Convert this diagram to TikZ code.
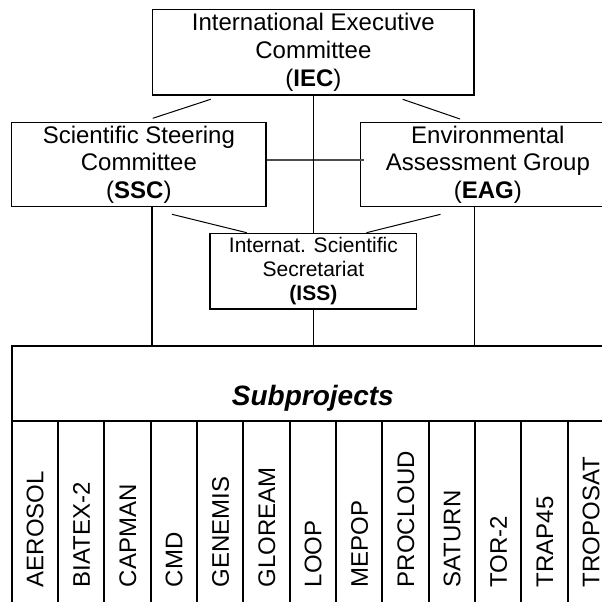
\documentclass[tikz,border=0pt]{standalone}
\usepackage{fontspec}
\setmainfont{Liberation Sans}
\usetikzlibrary{positioning,calc}

\begin{document}
\begin{tikzpicture}[x=1pt,y=-1pt,
  box/.style={draw,line width=1.5pt,align=center,inner sep=0pt,
    font=\fontsize{24}{27.6}\selectfont},
  link/.style={line width=1.4pt},
  slant/.style={line width=1pt},
  coltext/.style={rotate=90,anchor=base west,inner sep=0pt,
    font=\fontsize{24}{27.6}\selectfont}]
\useasboundingbox (0,0) rectangle (602,602);
\clip (0,0) rectangle (602,602);

% committees
\node[box,minimum width=321.3pt,minimum height=85.7pt] (iec) at (313.35,52.2)
  {International Executive\\Committee\\(\textbf{IEC})};
\node[box,minimum width=254.3pt,minimum height=84pt] (ssc) at (138.85,164.7)
  {Scientific Steering\\Committee\\(\textbf{SSC})};
\node[box,minimum width=254.3pt,minimum height=84pt] (eag) at (487.85,164.7)
  {Environmental\\Assessment Group\\(\textbf{EAG})};
\node[box,minimum width=206.7pt,minimum height=75.7pt,
  font=\fontsize{21}{24.3}\selectfont] (iss) at (313.35,271.15)
  {Internat. Scientific\\Secretariat\\\textbf{(ISS)}};

% subprojects
\node[draw,line width=2pt,minimum width=602.3pt,minimum height=75pt,inner sep=0pt] (sub) at (312.85,383.2) {};
\node[inner sep=0pt,font=\fontsize{28}{32}\selectfont\bfseries\itshape] (subt) at (312.85,398) {Subprojects};
\foreach \name [count=\i] in {AEROSOL,BIATEX-2,CAPMAN,CMD,GENEMIS,GLOREAM,LOOP,MEPOP,PROCLOUD,SATURN,TOR-2,TRAP45,TROPOSAT} {
  \draw[line width=2pt] (11.7+46.33*\i-46.33,420.7) rectangle (11.7+46.33*\i,615);
  \node[coltext] (p\i) at (11.7+46.33*\i-23.17+8.6,587.5) {\name};
}

% connectors
\coordinate (l1) at (210.7,99.3);  \coordinate (l2) at (152.7,118.3);
\coordinate (r1) at (402.7,99.3);  \coordinate (r2) at (460,119);
\coordinate (l3) at (172,214.3);   \coordinate (l4) at (246.7,232.7);
\coordinate (r3) at (440.5,214.3); \coordinate (r4) at (366.5,232.7);
\draw[slant] (l1) -- (l2);
\draw[slant] (r1) -- (r2);
\draw[slant] (l3) -- (l4);
\draw[slant] (r3) -- (r4);
\draw[link,black!70] ([yshift=4.7pt]ssc.east) -- ([yshift=4.7pt,xshift=4pt]eag.west);
\draw[link] (iec.south) -- (iss.north);
\draw[link] (iss.south) -- (iss.south |- sub.north);
\draw[link] (iec.south west |- ssc.south) -- (iec.south west |- sub.north);
\draw[link] (iec.south east |- eag.south) -- (iec.south east |- sub.north);
\end{tikzpicture}
\end{document}
